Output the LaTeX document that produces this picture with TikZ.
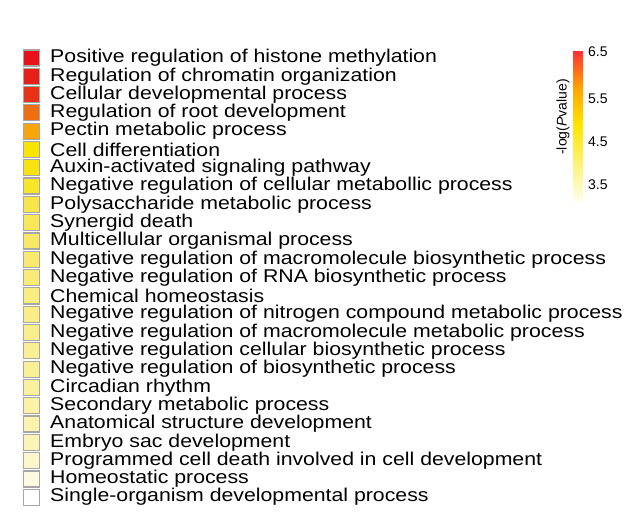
\documentclass[tikz,border=0pt]{standalone}
\usepackage{fontspec}
\setmainfont{Liberation Sans}
\begin{document}
\begin{tikzpicture}[x=1pt,y=-1pt,
  cell/.style={draw=gray!70,line width=1.2pt},
  term/.style={anchor=west,inner sep=0pt,xscale=1.15,transform shape,font=\fontsize{18.5}{18}\selectfont},
  tick/.style={anchor=west,inner sep=0pt,font=\fontsize{14}{14}\selectfont}]
\useasboundingbox (0,0) rectangle (639,518);

\foreach \c [count=\i] in {E6111B,E62019,E93217,EE6E10,F7A50A,F7E400,F7E40F,F7E52A,F8E54A,F8E75A,F9E865,F9EA6E,F9EB78,F9EC80,FAED86,FAEE8C,FAEF92,FAF098,FAF19F,FBF2A6,FBF3AE,FBF4B6,FCF7CC,FDFADF,FFFFFF}{
  \definecolor{rowcol}{HTML}{\c}
  \node[cell,fill=rowcol,minimum size=16pt,inner sep=0pt] (s\i) at (31.5,{58+(\i-1)*18.3}) {};
}

\node[term] (t1) at (50,58) {Positive regulation of histone methylation};
\node[term] (t2) at (50,76.3) {Regulation of chromatin organization};
\node[term] (t3) at (50,94.6) {Cellular developmental process};
\node[term] (t4) at (50,112.9) {Regulation of root development};
\node[term] (t5) at (50,131.2) {Pectin metabolic process};
\node[term] (t6) at (50,149.5) {Cell differentiation};
\node[term] (t7) at (50,167.8) {Auxin-activated signaling pathway};
\node[term] (t8) at (50,186.1) {Negative regulation of cellular metabollic process};
\node[term] (t9) at (50,204.4) {Polysaccharide metabolic process};
\node[term] (t10) at (50,222.7) {Synergid death};
\node[term] (t11) at (50,241) {Multicellular organismal process};
\node[term] (t12) at (50,259.3) {Negative regulation of macromolecule biosynthetic process};
\node[term] (t13) at (50,277.6) {Negative regulation of RNA biosynthetic process};
\node[term] (t14) at (50,295.9) {Chemical homeostasis};
\node[term] (t15) at (50,314.2) {Negative regulation of nitrogen compound metabolic process};
\node[term] (t16) at (50,332.5) {Negative regulation of macromolecule metabolic process};
\node[term] (t17) at (50,350.8) {Negative regulation cellular biosynthetic process};
\node[term] (t18) at (50,369.1) {Negative regulation of biosynthetic process};
\node[term] (t19) at (50,387.4) {Circadian rhythm};
\node[term] (t20) at (50,405.7) {Secondary metabolic process};
\node[term] (t21) at (50,424) {Anatomical structure development};
\node[term] (t22) at (50,442.3) {Embryo sac development};
\node[term] (t23) at (50,460.6) {Programmed cell death involved in cell development};
\node[term] (t24) at (50,478.9) {Homeostatic process};
\node[term] (t25) at (50,497.2) {Single-organism developmental process};

% colour key
\shade[top color=red!80!white,bottom color=yellow!90!red,middle color=orange!70!yellow] (573,52) rectangle (583,125);
\shade[top color=yellow!90!red,bottom color=yellow!5!white] (573,125) rectangle (583,203);
\node[tick] (k65) at (588,52) {6.5};
\node[tick] (k55) at (588,99) {5.5};
\node[tick] (k45) at (588,142) {4.5};
\node[tick] (k35) at (588,185) {3.5};
\node[rotate=90,inner sep=0pt,font=\fontsize{14}{14}\selectfont] (klab) at (563,117) {-log(\textit{P}value)};
\end{tikzpicture}
\end{document}
